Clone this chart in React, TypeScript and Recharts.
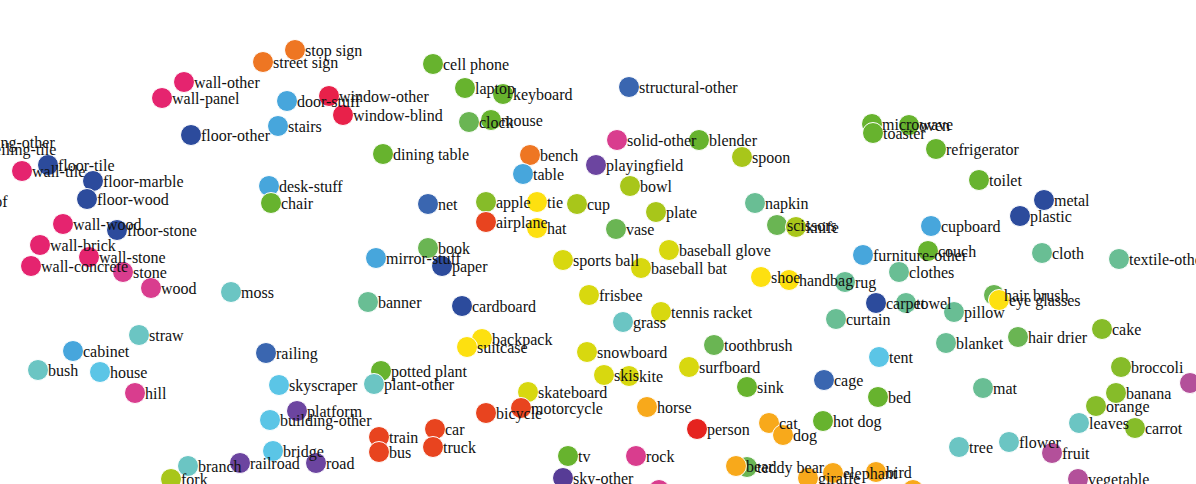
import React from 'react';
import { ScatterChart, Scatter, XAxis, YAxis } from 'recharts';

type P = { name: string; x: number; y: number };

const wall: P[] = [
  { name: 'wall-other', x: 184, y: 82 }, { name: 'wall-panel', x: 162, y: 98 },
  { name: 'wall-tile', x: 22, y: 171 }, { name: 'wall-wood', x: 63, y: 224 },
  { name: 'wall-brick', x: 40, y: 245 }, { name: 'wall-stone', x: 89, y: 257 },
  { name: 'wall-concrete', x: 31, y: 266 }, { name: 'ceiling-other', x: -37, y: 142 },
  { name: 'ceiling-tile', x: -23, y: 149 }, { name: 'roof', x: -29, y: 201 },
];
const floor: P[] = [
  { name: 'floor-other', x: 191, y: 135 }, { name: 'floor-tile', x: 48, y: 165 },
  { name: 'floor-marble', x: 93, y: 181 }, { name: 'floor-wood', x: 87, y: 199 },
  { name: 'floor-stone', x: 117, y: 230 }, { name: 'paper', x: 442, y: 266 },
  { name: 'cardboard', x: 462, y: 306 }, { name: 'metal', x: 1044, y: 200 },
  { name: 'plastic', x: 1020, y: 216 }, { name: 'carpet', x: 876, y: 303 },
];
const structural: P[] = [
  { name: 'structural-other', x: 629, y: 87 }, { name: 'net', x: 428, y: 204 },
  { name: 'railing', x: 266, y: 353 }, { name: 'cage', x: 824, y: 380 },
];
const outdoor: P[] = [
  { name: 'stop sign', x: 295, y: 50 }, { name: 'street sign', x: 263, y: 62 },
  { name: 'bench', x: 530, y: 155 },
];
const furniture: P[] = [
  { name: 'door-stuff', x: 287, y: 101 }, { name: 'stairs', x: 278, y: 126 },
  { name: 'desk-stuff', x: 269, y: 186 }, { name: 'table', x: 523, y: 174 },
  { name: 'mirror-stuff', x: 376, y: 258 }, { name: 'cabinet', x: 73, y: 351 },
  { name: 'cupboard', x: 931, y: 226 }, { name: 'furniture-other', x: 863, y: 255 },
];
const windowStuff: P[] = [
  { name: 'window-other', x: 329, y: 96 }, { name: 'window-blind', x: 343, y: 115 },
];
const appliance: P[] = [
  { name: 'cell phone', x: 433, y: 64 }, { name: 'laptop', x: 465, y: 88 },
  { name: 'keyboard', x: 503, y: 94 }, { name: 'mouse', x: 491, y: 120 },
  { name: 'dining table', x: 383, y: 154 }, { name: 'chair', x: 271, y: 203 },
  { name: 'microwave', x: 872, y: 124 }, { name: 'oven', x: 909, y: 125 },
  { name: 'toaster', x: 873, y: 133 }, { name: 'refrigerator', x: 936, y: 149 },
  { name: 'blender', x: 699, y: 140 }, { name: 'toilet', x: 979, y: 180 },
  { name: 'couch', x: 928, y: 251 }, { name: 'potted plant', x: 381, y: 371 },
  { name: 'tv', x: 568, y: 456 }, { name: 'bed', x: 878, y: 397 },
  { name: 'sink', x: 747, y: 387 }, { name: 'hot dog', x: 823, y: 421 },
];
const indoor: P[] = [
  { name: 'clock', x: 469, y: 122 }, { name: 'book', x: 428, y: 248 },
  { name: 'vase', x: 616, y: 229 }, { name: 'scissors', x: 777, y: 225 },
  { name: 'toothbrush', x: 714, y: 345 }, { name: 'hair drier', x: 1018, y: 337 },
  { name: 'hair brush', x: 994, y: 295 }, { name: 'teddy bear', x: 747, y: 467 },
];
const kitchen: P[] = [
  { name: 'spoon', x: 742, y: 157 }, { name: 'bowl', x: 630, y: 186 },
  { name: 'cup', x: 577, y: 204 }, { name: 'plate', x: 656, y: 212 },
  { name: 'knife', x: 796, y: 227 }, { name: 'fork', x: 171, y: 479 },
];
const food: P[] = [
  { name: 'apple', x: 486, y: 202 }, { name: 'cake', x: 1102, y: 329 },
  { name: 'broccoli', x: 1121, y: 367 }, { name: 'banana', x: 1116, y: 393 },
  { name: 'orange', x: 1096, y: 406 }, { name: 'carrot', x: 1135, y: 428 },
];
const solid: P[] = [
  { name: 'solid-other', x: 617, y: 140 }, { name: 'stone', x: 123, y: 272 },
  { name: 'wood', x: 151, y: 288 }, { name: 'hill', x: 135, y: 393 },
  { name: 'rock', x: 636, y: 456 }, { name: 'dirt', x: 659, y: 490 },
];
const ground: P[] = [
  { name: 'playingfield', x: 596, y: 165 }, { name: 'platform', x: 297, y: 411 },
  { name: 'railroad', x: 240, y: 463 }, { name: 'road', x: 316, y: 463 },
];
const sky: P[] = [{ name: 'sky-other', x: 563, y: 478 }];
const accessory: P[] = [
  { name: 'tie', x: 537, y: 202 }, { name: 'hat', x: 537, y: 228 },
  { name: 'shoe', x: 761, y: 277 }, { name: 'handbag', x: 789, y: 280 },
  { name: 'backpack', x: 482, y: 339 }, { name: 'suitcase', x: 467, y: 347 },
  { name: 'eye glasses', x: 999, y: 300 },
];
const sports: P[] = [
  { name: 'sports ball', x: 563, y: 260 }, { name: 'baseball glove', x: 669, y: 250 },
  { name: 'baseball bat', x: 641, y: 268 }, { name: 'frisbee', x: 589, y: 295 },
  { name: 'tennis racket', x: 661, y: 312 }, { name: 'snowboard', x: 587, y: 352 },
  { name: 'skis', x: 604, y: 375 }, { name: 'kite', x: 629, y: 376 },
  { name: 'surfboard', x: 689, y: 367 }, { name: 'skateboard', x: 528, y: 392 },
];
const textile: P[] = [
  { name: 'napkin', x: 755, y: 203 }, { name: 'rug', x: 845, y: 282 },
  { name: 'clothes', x: 899, y: 272 }, { name: 'cloth', x: 1042, y: 253 },
  { name: 'textile-other', x: 1119, y: 259 }, { name: 'curtain', x: 836, y: 319 },
  { name: 'towel', x: 906, y: 303 }, { name: 'pillow', x: 954, y: 312 },
  { name: 'blanket', x: 946, y: 343 }, { name: 'mat', x: 983, y: 388 },
  { name: 'banner', x: 368, y: 302 },
];
const plant: P[] = [
  { name: 'moss', x: 231, y: 292 }, { name: 'straw', x: 139, y: 335 },
  { name: 'bush', x: 38, y: 370 }, { name: 'grass', x: 623, y: 322 },
  { name: 'plant-other', x: 374, y: 384 }, { name: 'branch', x: 188, y: 466 },
  { name: 'leaves', x: 1079, y: 423 }, { name: 'tree', x: 959, y: 447 },
  { name: 'flower', x: 1009, y: 442 },
];
const building: P[] = [
  { name: 'house', x: 100, y: 372 }, { name: 'skyscraper', x: 279, y: 385 },
  { name: 'building-other', x: 270, y: 420 }, { name: 'bridge', x: 273, y: 451 },
  { name: 'tent', x: 879, y: 357 },
];
const vehicle: P[] = [
  { name: 'airplane', x: 486, y: 222 }, { name: 'train', x: 379, y: 437 },
  { name: 'bus', x: 379, y: 452 }, { name: 'car', x: 435, y: 429 },
  { name: 'truck', x: 433, y: 447 }, { name: 'bicycle', x: 486, y: 413 },
  { name: 'motorcycle', x: 521, y: 408 },
];
const animal: P[] = [
  { name: 'horse', x: 647, y: 407 }, { name: 'cat', x: 769, y: 423 },
  { name: 'dog', x: 783, y: 435 }, { name: 'bear', x: 736, y: 466 },
  { name: 'giraffe', x: 808, y: 478 }, { name: 'elephant', x: 833, y: 473 },
  { name: 'bird', x: 876, y: 472 }, { name: 'zebra', x: 913, y: 490 },
];
const person: P[] = [{ name: 'person', x: 697, y: 429 }];
const fruit: P[] = [
  { name: 'fruit', x: 1052, y: 453 }, { name: 'vegetable', x: 1078, y: 479 },
  { name: 'salad', x: 1190, y: 383 },
];

const groups: { data: P[]; color: string }[] = [
  { data: wall, color: '#e5246f' },
  { data: floor, color: '#2c4b9c' },
  { data: structural, color: '#3a66b0' },
  { data: outdoor, color: '#ee7623' },
  { data: furniture, color: '#47a6dc' },
  { data: windowStuff, color: '#e8214a' },
  { data: appliance, color: '#67b32e' },
  { data: indoor, color: '#6ab553' },
  { data: kitchen, color: '#a8c61a' },
  { data: food, color: '#86bc29' },
  { data: solid, color: '#d93d8e' },
  { data: ground, color: '#6c45a0' },
  { data: sky, color: '#573c96' },
  { data: accessory, color: '#fde010' },
  { data: sports, color: '#d8d80f' },
  { data: textile, color: '#69be94' },
  { data: plant, color: '#6bc5c3' },
  { data: building, color: '#5bc5e6' },
  { data: vehicle, color: '#e8441f' },
  { data: animal, color: '#f8a91b' },
  { data: person, color: '#e5231f' },
  { data: fruit, color: '#b3509a' },
];

const allPoints: P[] = groups.flatMap((g) => g.data);

const dot = (color: string) => (props: any) => {
  const { cx, cy } = props;
  if (cx == null || cy == null) return <g />;
  return <circle cx={cx} cy={cy} r={10.5} fill={color} stroke="#ffffff" strokeWidth={1} />;
};

const label = (props: any) => {
  const { cx, cy, payload } = props;
  if (cx == null || cy == null) return <g />;
  return (
    <text x={cx + 10} y={cy + 6} fontSize={16} fontFamily="'Liberation Serif', 'Times New Roman', serif" fill="#111">
      {payload.name}
    </text>
  );
};

export default function App() {
  return (
    <div style={{ position: 'absolute', left: 0, top: 0, width: 1196, height: 484, background: '#fff' }}>
      <ScatterChart width={1196} height={484} margin={{ top: 0, right: 0, bottom: 0, left: 0 }}>
        <XAxis type="number" dataKey="x" domain={[0, 1196]} hide allowDataOverflow />
        <YAxis type="number" dataKey="y" domain={[0, 484]} reversed hide allowDataOverflow />
        {groups.map((g, i) => (
          <Scatter key={i} data={g.data} shape={dot(g.color)} isAnimationActive={false} />
        ))}
        <Scatter data={allPoints} shape={label} isAnimationActive={false} />
      </ScatterChart>
    </div>
  );
}
